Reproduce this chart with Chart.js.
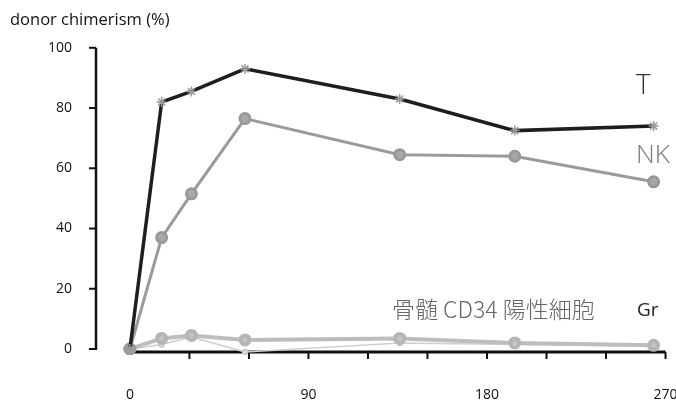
<!DOCTYPE html>
<html>
<head>
<meta charset="utf-8">
<script src="https://cdn.jsdelivr.net/npm/chart.js@4.4.1/dist/chart.umd.min.js"></script>
<style>
  body { margin: 0; background: #fff; }
  #wrap { width: 676px; height: 403px; }
</style>
</head>
<body>
<div id="wrap"><canvas id="chimerism"></canvas></div>
<script>
// days after transplant
const days = [0, 16, 31, 58, 136, 194, 264];

const tCells = [0, 82, 85.5, 93, 83, 72.5, 74];
const nkCells = [0, 37, 51.5, 76.5, 64.5, 64, 55.5];
const grCells = [0, 3.5, 4.5, 3, 3.5, 2, 1.2];
const cd34Cells = [0, 1.5, 4, -1, 2, 1.5, 1];

const xTickLabels = [0, 90, 180, 270];
const xTickMarks = [30, 60, 90, 120, 150, 180, 210, 240, 270];
const yTicks = [0, 20, 40, 60, 80, 100];

const pts = (vals) => days.map((d, i) => ({ x: d, y: vals[i] }));

const ctx = document.querySelector('#chimerism').getContext('2d');

// GraphPad-like detached axes + series labels
const axesPlugin = {
  id: 'axesPlugin',
  beforeDatasetsDraw(chart) {
    const c = chart.ctx;
    const xs = chart.scales.x, ys = chart.scales.y;
    const left = chart.chartArea.left;
    c.save();
    c.strokeStyle = '#111';
    // y axis
    c.lineWidth = 2.5;
    c.beginPath();
    c.moveTo(left, ys.getPixelForValue(100));
    c.lineTo(left, ys.getPixelForValue(0) + 1);
    c.stroke();
    c.lineWidth = 2;
    yTicks.forEach(v => {
      const y = ys.getPixelForValue(v);
      c.beginPath();
      c.moveTo(left - 7, y);
      c.lineTo(left, y);
      c.stroke();
    });
    // x axis
    const ax = ys.getPixelForValue(-1);
    c.lineWidth = 3;
    c.beginPath();
    c.moveTo(xs.getPixelForValue(2), ax);
    c.lineTo(xs.getPixelForValue(270), ax);
    c.stroke();
    c.lineWidth = 2;
    xTickMarks.forEach(v => {
      const x = xs.getPixelForValue(v);
      c.beginPath();
      c.moveTo(x, ax);
      c.lineTo(x, ax + 7);
      c.stroke();
    });
    c.restore();
  },
  afterDatasetsDraw(chart) {
    const c = chart.ctx;
    c.save();
    c.textAlign = 'left';
    c.textBaseline = 'alphabetic';
    c.font = '300 28px "Open Sans"';
    c.fillStyle = '#333';
    c.fillText('T', 636, 94);
    c.fillStyle = '#777';
    c.font = '300 26px "Open Sans"';
    c.fillText('NK', 636, 163);
    c.font = '19px "Open Sans"';
    c.fillStyle = '#222';
    c.fillText('Gr', 637, 316);
    c.font = '300 23px "Noto Sans CJK JP"';
    c.fillStyle = '#666';
    c.fillText('骨髄 CD34 陽性細胞', 392, 318);
    c.restore();
  }
};

new Chart(ctx, {
  type: 'line',
  data: {
    datasets: [
      {
        label: 'T',
        data: pts(tCells),
        borderColor: '#1e1e1e',
        borderWidth: 3.5,
        pointStyle: 'star',
        pointRadius: 5,
        pointBorderColor: '#999',
        pointBorderWidth: 1.5,
        pointBackgroundColor: '#999'
      },
      {
        label: 'NK',
        data: pts(nkCells),
        borderColor: '#9a9a9a',
        borderWidth: 3,
        pointRadius: 5,
        pointBorderColor: '#999',
        pointBackgroundColor: '#a8a8a8'
      },
      {
        label: 'Gr',
        data: pts(grCells),
        borderColor: '#bdbdbd',
        borderWidth: 4,
        pointRadius: 4.5,
        pointBorderColor: '#b5b5b5',
        pointBackgroundColor: '#c4c4c4'
      },
      {
        label: '骨髄 CD34 陽性細胞',
        data: pts(cd34Cells),
        borderColor: '#cfcfcf',
        borderWidth: 1.5,
        pointRadius: 2.5,
        pointBorderColor: '#c8c8c8',
        pointBackgroundColor: '#ddd'
      }
    ]
  },
  options: {
    responsive: true,
    maintainAspectRatio: false,
    animation: false,
    layout: { padding: { left: 10, right: 0, top: 0, bottom: 0 } },
    plugins: {
      legend: { display: false },
      tooltip: { enabled: false },
      title: {
        display: true,
        text: 'donor chimerism (%)',
        align: 'start',
        color: '#111',
        font: { family: '"Open Sans"', size: 16.5, weight: 'normal' },
        padding: { top: 10, bottom: 18 }
      }
    },
    scales: {
      x: {
        type: 'linear',
        min: -17.1,
        max: 271,
        afterBuildTicks: (s) => { s.ticks = xTickLabels.map(v => ({ value: v })); },
        afterFit: (s) => { s.height = 48; s.paddingRight = 0; },
        grid: { display: false, drawTicks: true, tickLength: 30 },
        border: { display: false },
        ticks: {
          padding: 2,
          color: '#111',
          font: { family: '"Open Sans"', size: 14 }
        }
      },
      y: {
        min: -2,
        max: 100,
        afterBuildTicks: (s) => { s.ticks = yTicks.map(v => ({ value: v })); },
        afterFit: (s) => { s.width = 86; },
        grid: { display: false, drawTicks: false },
        border: { display: false },
        ticks: {
          padding: 24,
          color: '#111',
          font: { family: '"Open Sans"', size: 14 }
        }
      }
    }
  },
  plugins: [axesPlugin]
});
</script>
</body>
</html>
